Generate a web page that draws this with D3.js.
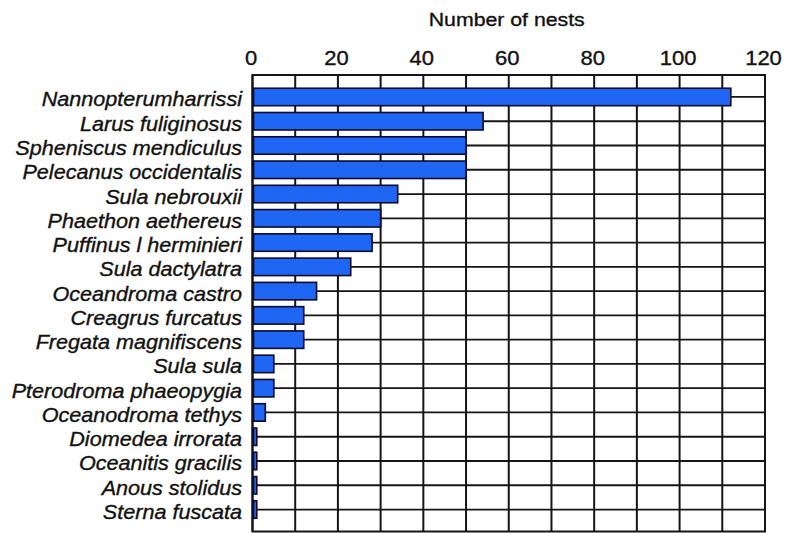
<!DOCTYPE html>
<html>
<head>
<meta charset="utf-8">
<script src="https://cdn.jsdelivr.net/npm/d3@7"></script>
<style>
  html, body { margin: 0; padding: 0; background: #fff; }
  svg { display: block; }
  text { font-family: "Liberation Sans", Arial, Helvetica, sans-serif; fill: #111; stroke: #111; stroke-width: 0.35px; }
</style>
</head>
<body>
<svg id="chart" width="789" height="533"></svg>
<script>
const categories = [
  "Nannopterumharrissi", "Larus fuliginosus", "Spheniscus mendiculus",
  "Pelecanus occidentalis", "Sula nebrouxii", "Phaethon aethereus",
  "Puffinus l herminieri", "Sula dactylatra", "Oceandroma castro",
  "Creagrus furcatus", "Fregata magnifiscens", "Sula sula",
  "Pterodroma phaeopygia", "Oceanodroma tethys", "Diomedea irrorata",
  "Oceanitis gracilis", "Anous stolidus", "Sterna fuscata"
];
const nests = [112, 54, 50, 50, 34, 30, 28, 23, 15, 12, 12, 5, 5, 3, 1, 1, 1, 1];
const tickLabels = [0, 20, 40, 60, 80, 100, 120];
const gridValues = [0, 10, 20, 30, 40, 50, 60, 70, 80, 90, 100, 110, 120];
const axisTitle = "Number of nests";

(function () {
const svg = d3.select("#chart");
const pLeft = 252.5, pRight = 765, pTop = 75, pBottom = 531.5;

const x = d3.scaleLinear().domain([0, 120]).range([pLeft, pRight]);
const y = d3.scaleBand().domain(categories).range([pTop, pBottom])
  .paddingInner(0.28).paddingOuter(0.545);

// vertical gridlines
svg.append("g").selectAll("line").data(gridValues).join("line")
  .attr("x1", d => x(d)).attr("x2", d => x(d))
  .attr("y1", pTop).attr("y2", pBottom)
  .attr("stroke", "#151515").attr("stroke-width", 2);

// horizontal gridlines at category centers
svg.append("g").selectAll("line").data(categories).join("line")
  .attr("x1", pLeft).attr("x2", pRight)
  .attr("y1", d => y(d) + y.bandwidth() / 2).attr("y2", d => y(d) + y.bandwidth() / 2)
  .attr("stroke", "#151515").attr("stroke-width", 1.8);

// frame
svg.append("rect")
  .attr("x", pLeft).attr("y", pTop)
  .attr("width", pRight - pLeft).attr("height", pBottom - pTop)
  .attr("fill", "none").attr("stroke", "#151515").attr("stroke-width", 2);

// bars
svg.append("g").selectAll("rect").data(categories).join("rect")
  .attr("x", x(0) + 1)
  .attr("y", d => y(d))
  .attr("width", (d, i) => Math.max(0, x(nests[i]) - x(0) - 1))
  .attr("height", y.bandwidth())
  .attr("fill", "#1f66f4")
  .attr("stroke", "#0b0b30")
  .attr("stroke-width", 1.6);

// category labels
svg.append("g").selectAll("text").data(categories).join("text")
  .attr("transform", d => `translate(242,${y(d) + y.bandwidth() / 2 + 9.5}) scale(1.08,1)`)
  .attr("text-anchor", "end")
  .style("font-size", "20px")
  .style("font-style", "italic")
  .text(d => d);

// top axis tick labels
const axis = d3.axisTop(x).tickValues(tickLabels).tickSize(0).tickPadding(0);
const ag = svg.append("g").attr("transform", "translate(0,65)").call(axis);
ag.select(".domain").remove();
ag.selectAll("text")
  .attr("transform", "translate(-2,0) scale(1.1,1)")
  .style("font-size", "20px")
  .style("font-family", "'Liberation Sans', Arial, sans-serif")
  .attr("fill", "#111");

// axis title
svg.append("text")
  .attr("transform", `translate(${(pLeft + pRight) / 2 - 2},26) scale(1.12,1)`)
  .attr("text-anchor", "middle")
  .style("font-size", "19px")
  .text(axisTitle);
})();
</script>
</body>
</html>
